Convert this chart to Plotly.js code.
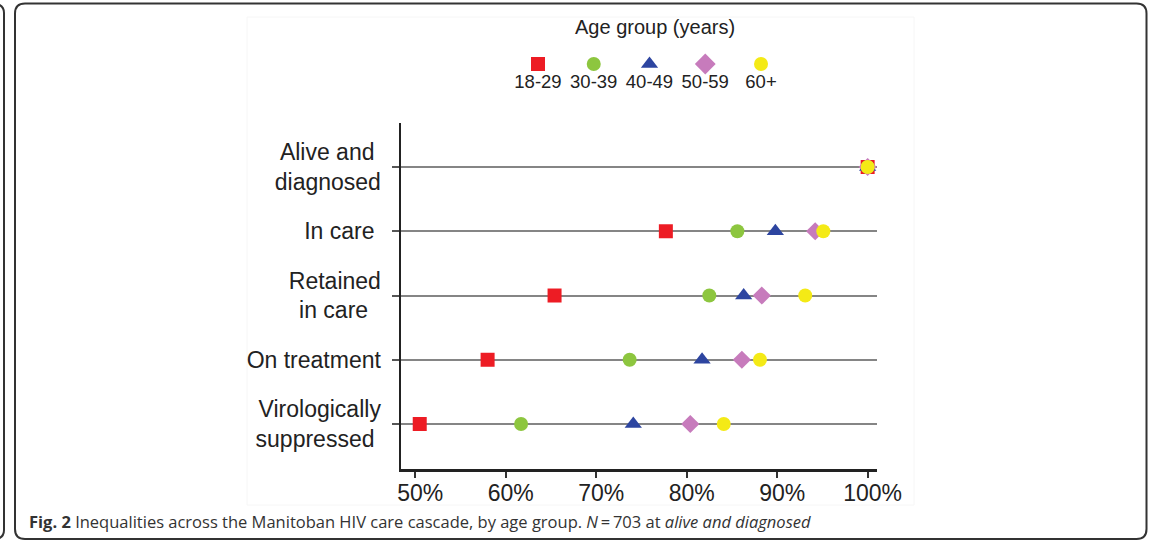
<!DOCTYPE html>
<html>
<head>
<meta charset="utf-8">
<script src="https://cdn.plot.ly/plotly-3.0.1.min.js"></script>
<style>html,body{margin:0;padding:0;background:#fff;}#chart{width:1154px;height:541px;}</style>
</head>
<body>
<div id="chart"></div>
<script>
// ---- data ----
const stages = ['Alive and diagnosed', 'In care', 'Retained in care', 'On treatment', 'Virologically suppressed'];
const stageLabels = ['Alive and\u00A0<br>diagnosed', 'In care\u00A0', 'Retained<br>in care\u00A0\u00A0', 'On treatment', 'Virologically<br>suppressed\u00A0'];
const ageGroups = ['18-29', '30-39', '40-49', '50-59', '60+'];
const v18_29  = [100, 77.7, 65.4, 58.0, 50.5];
const v30_39  = [100, 85.6, 82.5, 73.7, 61.7];
const v40_49  = [100, 89.8, 86.3, 81.7, 74.1];
const v50_59  = [100, 94.2, 88.3, 86.1, 80.4];
const v60plus = [100, 95.1, 93.1, 88.1, 84.1];
const xTickVals = [50, 60, 70, 80, 90, 100];
const xTickText = ['50%', '60%', '70%', '80%', '90%', '100%'];
const legendTitle = 'Age group (years)';
const caption = '<b>Fig. 2</b> Inequalities across the Manitoban HIV care cascade, by age group. <i>N</i>\u2009=\u2009703 at <i>alive and diagnosed</i>';

// ---- styles ----
const series = [v18_29, v30_39, v40_49, v50_59, v60plus];
const colors = ['#ED1C24', '#8DC63F', '#2D45A0', '#C77BBC', '#F4EA16'];
const symbols = ['square', 'circle', 'triangle-up', 'diamond', 'circle'];
const plotSizes = [14, 14, 15, 14, 14];
const legendSizes = [14, 14, 15, 16, 14];

const W = 1154, H = 541;
const X = px => px / W;
const Y = py => 1 - py / H;

const traces = [];
series.forEach((vals, i) => {
  traces.push({
    type: 'scatter', mode: 'markers', name: ageGroups[i],
    x: vals, y: stages, xaxis: 'x', yaxis: 'y',
    marker: {symbol: symbols[i], size: plotSizes[i], color: colors[i], opacity: 1, line: {width: 0}},
    showlegend: false, cliponaxis: false, hoverinfo: 'x+name'
  });
});
// custom legend (markers above labels)
traces.push({
  type: 'scatter', mode: 'markers', xaxis: 'x2', yaxis: 'y2',
  x: ageGroups.map((_, i) => i), y: ageGroups.map(() => 0),
  marker: {symbol: symbols, size: legendSizes, color: colors, opacity: 1, line: {width: 0}},
  showlegend: false, hoverinfo: 'skip', cliponaxis: false
});
traces.push({
  type: 'scatter', mode: 'text', xaxis: 'x2', yaxis: 'y2',
  x: ageGroups.map((_, i) => i), y: ageGroups.map(() => -1),
  text: ageGroups, textposition: 'middle center',
  textfont: {family: 'Liberation Sans, Arial, sans-serif', size: 18.5, color: '#222'},
  showlegend: false, hoverinfo: 'skip', cliponaxis: false
});

function roundRect(x1, y1, x2, y2, r) {
  return `M${X(x1 + r)},${Y(y1)} L${X(x2 - r)},${Y(y1)} Q${X(x2)},${Y(y1)} ${X(x2)},${Y(y1 + r)} ` +
         `L${X(x2)},${Y(y2 - r)} Q${X(x2)},${Y(y2)} ${X(x2 - r)},${Y(y2)} ` +
         `L${X(x1 + r)},${Y(y2)} Q${X(x1)},${Y(y2)} ${X(x1)},${Y(y2 - r)} ` +
         `L${X(x1)},${Y(y1 + r)} Q${X(x1)},${Y(y1)} ${X(x1 + r)},${Y(y1)} Z`;
}
const leftPanel = `M${X(-8)},${Y(3.5)} Q${X(4)},${Y(3.5)} ${X(4)},${Y(13)} L${X(4)},${Y(530)} Q${X(4)},${Y(539.5)} ${X(-8)},${Y(539.5)}`;

const font = 'Liberation Sans, Arial, Helvetica, sans-serif';
const layout = {
  width: W, height: H, autosize: false,
  margin: {l: 0, r: 0, t: 0, b: 0},
  paper_bgcolor: '#fff', plot_bgcolor: 'rgba(0,0,0,0)',
  showlegend: false,
  font: {family: font, color: '#222'},
  xaxis: {
    domain: [X(401), X(876.7)], range: [48.43, 101.0],
    tickvals: xTickVals, ticktext: xTickText,
    showgrid: false, zeroline: false,
    showline: true, linecolor: '#222', linewidth: 2.5,
    ticks: 'outside', ticklen: 6, tickwidth: 2, tickcolor: '#333',
    ticklabelshift: 5, ticklabelstandoff: -4,
    tickfont: {family: font, size: 23, color: '#222'},
    anchor: 'y', fixedrange: true
  },
  yaxis: {
    domain: [Y(469.3), Y(123)], type: 'category',
    categoryorder: 'array', categoryarray: stages,
    range: [4.705, -0.685],
    tickvals: stages, ticktext: stageLabels,
    showgrid: true, gridcolor: '#858585', gridwidth: 2,
    zeroline: false,
    showline: true, linecolor: '#222', linewidth: 2.5,
    ticks: 'outside', ticklen: 7, tickwidth: 2, tickcolor: '#555',
    ticklabelstandoff: 6,
    tickfont: {family: font, size: 23, color: '#222'},
    anchor: 'x', fixedrange: true
  },
  xaxis2: {domain: [X(510.1), X(788.9)], range: [-0.5, 4.5], visible: false, anchor: 'y2', fixedrange: true},
  yaxis2: {domain: [Y(102), Y(45)], range: [-2, 1], visible: false, anchor: 'x2', fixedrange: true},
  annotations: [
    {text: legendTitle, xref: 'paper', yref: 'paper', x: X(655), y: Y(27.5),
     xanchor: 'center', yanchor: 'middle', showarrow: false,
     font: {family: font, size: 20, color: '#222'}},
    {text: caption, xref: 'paper', yref: 'paper', x: X(27), y: Y(521.5),
     xanchor: 'left', yanchor: 'middle', showarrow: false,
     font: {family: 'Open Sans, Noto Sans, sans-serif', size: 16.5, color: '#333'}}
  ],
  shapes: [
    {type: 'rect', xref: 'paper', yref: 'paper', x0: X(247), x1: X(914), y0: Y(505), y1: Y(17),
     line: {color: '#f6f6f6', width: 1}, layer: 'below'},
    {type: 'path', xref: 'paper', yref: 'paper', path: roundRect(15, 3.5, 1146.5, 539, 10),
     line: {color: '#333', width: 2}},
    {type: 'path', xref: 'paper', yref: 'paper', path: leftPanel,
     line: {color: '#333', width: 2}}
  ]
};

Plotly.newPlot('chart', traces, layout, {displayModeBar: false, staticPlot: true});
</script>
</body>
</html>
